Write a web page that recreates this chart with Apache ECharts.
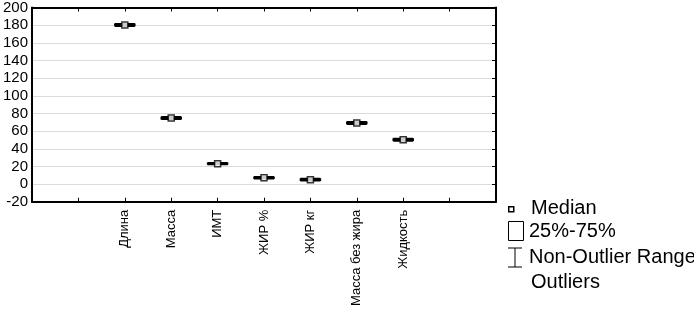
<!DOCTYPE html>
<html><head><meta charset="utf-8">
<script src="https://cdn.jsdelivr.net/npm/echarts@6/dist/echarts.min.js"></script>
<style>html,body{margin:0;padding:0;background:#fff}#c{width:694px;height:309px}</style>
</head><body><div id="c"></div>
<script>
var categories = ['', '', 'Длина', 'Масса', 'ИМТ', 'ЖИР %', 'ЖИР кг', 'Масса без жира', 'Жидкость', '', ''];
// [min, Q1, median, Q3, max]
var boxValues = [
  null, null,
  [178.8, 179.5, 180.2, 180.9, 181.6],
  [73.4, 74.1, 74.8, 75.5, 76.2],
  [22.2, 22.7, 23.1, 23.6, 24.1],
  [6.0, 6.6, 7.2, 7.8, 8.4],
  [3.8, 4.4, 5.0, 5.6, 6.2],
  [67.8, 68.5, 69.2, 69.9, 70.6],
  [48.9, 49.6, 50.3, 51.0, 51.7],
  null, null
];
var medians = [null, null, 180.2, 74.8, 23.1, 7.2, 5.0, 69.2, 50.3, null, null];
var yTicks = {min: -20, max: 200, interval: 20};
var legendLabels = ['Median', '25%-75%', 'Non-Outlier Range', 'Outliers'];

var chart = echarts.init(document.getElementById('c'));
var font = 'Liberation Sans, Arial, sans-serif';
var boxData = boxValues.map(function(v){ return v ? v : ['-', '-', '-', '-', '-']; });
var medData = medians.map(function(v, i){ return v == null ? null : [i, v]; }).filter(function(d){ return d; });

chart.setOption({
  animation: false,
  backgroundColor: '#fff',
  grid: {left: 30, right: 198, top: 6, bottom: 107, containLabel: false},
  xAxis: [{
    type: 'category', data: categories, boundaryGap: false, position: 'bottom',
    axisLine: {onZero: false, lineStyle: {color: '#000', width: 2}},
    axisTick: {inside: true, length: 4, interval: 0, lineStyle: {color: '#000', width: 1}},
    axisLabel: {rotate: 90, interval: 0, color: '#000', fontSize: 13, fontFamily: font, margin: 8},
    splitLine: {show: false}
  }, {
    type: 'category', data: categories, boundaryGap: false, position: 'top',
    axisLine: {onZero: false, lineStyle: {color: '#000', width: 2}},
    axisTick: {inside: true, length: 4, interval: 0, lineStyle: {color: '#000', width: 1}},
    axisLabel: {show: false}, splitLine: {show: false}
  }],
  yAxis: [{
    type: 'value', min: yTicks.min, max: yTicks.max, interval: yTicks.interval, position: 'left',
    axisLine: {show: true, onZero: false, lineStyle: {color: '#000', width: 2}},
    axisTick: {show: false},
    axisLabel: {color: '#000', fontSize: 15, fontFamily: font, margin: 4},
    splitLine: {show: true, lineStyle: {color: '#dcdcdc', width: 1}}
  }, {
    type: 'value', min: yTicks.min, max: yTicks.max, interval: yTicks.interval, position: 'right',
    axisLine: {show: true, onZero: false, lineStyle: {color: '#000', width: 2}},
    axisTick: {show: true, inside: true, length: 4, lineStyle: {color: '#000'}},
    axisLabel: {show: false}, splitLine: {show: false}
  }],
  series: [{
    type: 'boxplot', data: boxData, xAxisIndex: 0, yAxisIndex: 0,
    boxWidth: [20, 20],
    itemStyle: {color: '#000', borderColor: '#000', borderWidth: 1.5}
  }, {
    type: 'scatter', data: medData, xAxisIndex: 0, yAxisIndex: 0,
    symbol: 'rect', symbolSize: 6,
    itemStyle: {color: '#fff', borderColor: '#000', borderWidth: 1.5}, z: 5
  }],
  graphic: [
    {type: 'rect', left: 508, top: 206, shape: {width: 5, height: 5}, style: {fill: '#fff', stroke: '#000', lineWidth: 1.5}},
    {type: 'text', left: 531, top: 198, style: {text: legendLabels[0], font: '20px ' + font, fill: '#000'}},
    {type: 'rect', left: 508, top: 221, shape: {width: 15, height: 19}, style: {fill: '#fff', stroke: '#000', lineWidth: 1}},
    {type: 'text', left: 529, top: 221, style: {text: legendLabels[1], font: '20px ' + font, fill: '#000'}},
    {type: 'polyline', shape: {points: [[508, 248], [522, 248]]}, style: {stroke: '#000', lineWidth: 1}},
    {type: 'polyline', shape: {points: [[515, 248], [515, 267]]}, style: {stroke: '#000', lineWidth: 1}},
    {type: 'polyline', shape: {points: [[508, 267], [522, 267]]}, style: {stroke: '#000', lineWidth: 1}},
    {type: 'text', left: 529, top: 247, style: {text: legendLabels[2], font: '20px ' + font, fill: '#000'}},
    {type: 'text', left: 531, top: 272, style: {text: legendLabels[3], font: '20px ' + font, fill: '#000'}}
  ]
});
</script></body></html>
